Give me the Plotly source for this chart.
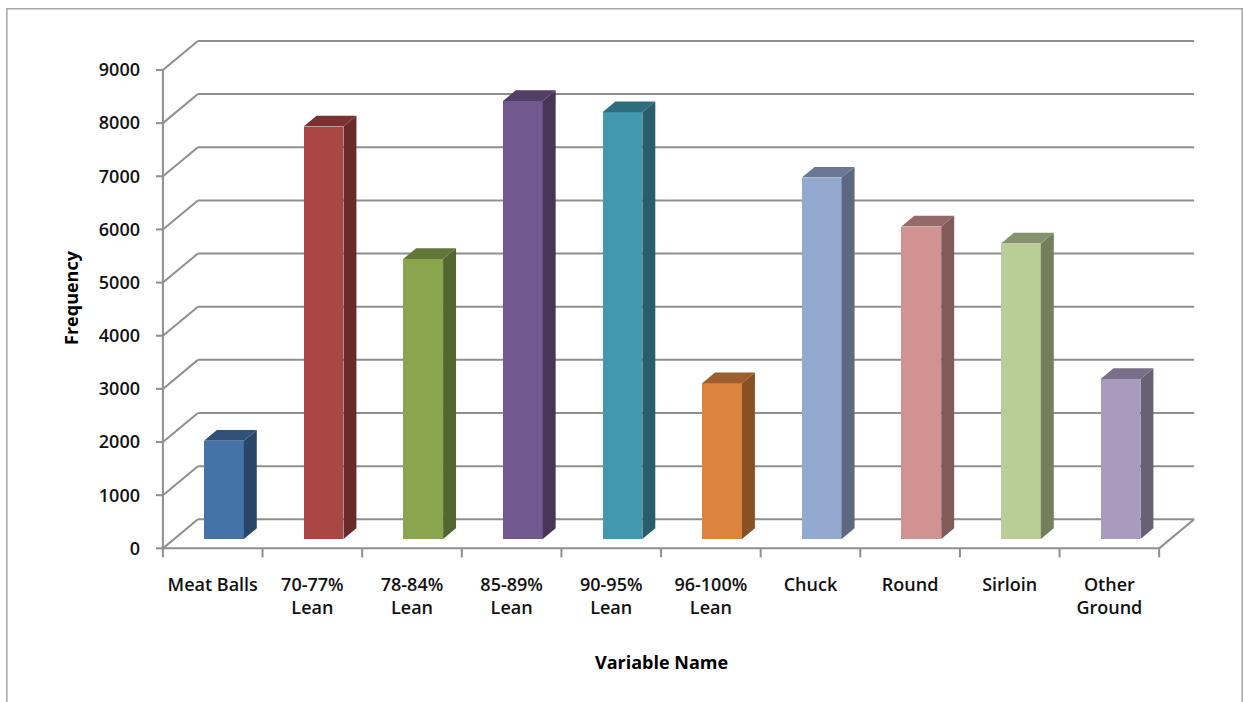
import plotly.graph_objects as go

# ---- data ----
categories = ["Meat Balls", "70-77%<br>Lean", "78-84%<br>Lean", "85-89%<br>Lean",
              "90-95%<br>Lean", "96-100%<br>Lean", "Chuck", "Round", "Sirloin",
              "Other<br>Ground"]
frequency = [1850, 7760, 5270, 8240, 8030, 2930, 6800, 5880, 5560, 3010]
y_ticks = [0, 1000, 2000, 3000, 4000, 5000, 6000, 7000, 8000, 9000]
bar_colors = ["#4572A7", "#AA4643", "#89A54E", "#71588F", "#4198AF",
              "#DB843D", "#93A9CF", "#D19392", "#B9CD96", "#A99BBD"]

# ---- pseudo-3D geometry (in axis units) ----
DEPTH_X = 0.351        # horizontal shift of the back wall, category units
DEPTH_Y = 546          # vertical shift of the back wall, frequency units
BAR_D0, BAR_D1 = 0.32, 0.69   # bar front/back as fraction of floor depth
BAR_W = 0.40
GRID = "#8f8f8f"
n = len(categories)


def shade(hex_color, k):
    r, g, b = (int(hex_color[i:i + 2], 16) for i in (1, 3, 5))
    return "rgb({},{},{})".format(int(r * k), int(g * k), int(b * k))


fig = go.Figure()

# front faces
base = BAR_D0 * DEPTH_Y
centers = [i + 0.5 + BAR_D0 * DEPTH_X for i in range(n)]
fig.add_trace(go.Bar(
    x=centers, y=frequency, base=[base] * n, width=BAR_W,
    marker=dict(color=bar_colors, line=dict(width=0)),
    hoverinfo="skip", showlegend=False,
))

# side and top faces
ddx = (BAR_D1 - BAR_D0) * DEPTH_X
ddy = (BAR_D1 - BAR_D0) * DEPTH_Y
for c, v, col in zip(centers, frequency, bar_colors):
    xl, xr = c - BAR_W / 2, c + BAR_W / 2
    top = base + v
    fig.add_trace(go.Scatter(
        x=[xr, xr, xr + ddx, xr + ddx, xr],
        y=[base, top, top + ddy, base + ddy, base],
        fill="toself", fillcolor=shade(col, 0.62), mode="lines",
        line=dict(width=0), hoverinfo="skip", showlegend=False,
    ))
    fig.add_trace(go.Scatter(
        x=[xl, xr, xr + ddx, xl + ddx, xl],
        y=[top, top, top + ddy, top + ddy, top],
        fill="toself", fillcolor=shade(col, 0.72), mode="lines",
        line=dict(width=0), hoverinfo="skip", showlegend=False,
    ))

# walls, floor, axis lines and tick marks
shapes = []


def seg(x0, y0, x1, y1, w=2):
    shapes.append(dict(type="line", xref="x", yref="y", x0=x0, y0=y0, x1=x1, y1=y1,
                       line=dict(color=GRID, width=w), layer="below"))


for v in y_ticks:
    seg(DEPTH_X, v + DEPTH_Y, n + DEPTH_X, v + DEPTH_Y)
    seg(0, v, DEPTH_X, v + DEPTH_Y)
    seg(-0.07, v, 0, v)
seg(0, 0, 0, y_ticks[-1])
seg(0, 0, n, 0)
seg(n, 0, n + DEPTH_X, DEPTH_Y)
for k in range(n + 1):
    seg(k, 0, k, -170)

# outer chart border
PL, PT, PW, PH = 143.1, 37.2, 1060.7, 521.4
shapes.append(dict(type="rect", xref="paper", yref="paper",
                   x0=(7 - PL) / PW, x1=(1242 - PL) / PW,
                   y0=(PT + PH - 712) / PH, y1=(PT + PH - 9) / PH,
                   line=dict(color="#a6a6a6", width=1.5), layer="below"))

TICK_FONT = dict(family="Open Sans, Liberation Sans, sans-serif", size=18,
                 weight=600, color="#111111")

fig.update_layout(
    width=1243, height=702,
    margin=dict(l=PL, r=1243 - PL - PW, t=PT, b=702 - PT - PH, pad=0),
    paper_bgcolor="white", plot_bgcolor="white",
    shapes=shapes, bargap=0, showlegend=False,
    font=dict(family="Open Sans, Liberation Sans, sans-serif", color="#000000"),
    xaxis=dict(range=[-0.2, n + 0.45], tickvals=[i + 0.5 for i in range(n)],
               ticktext=categories, ticks="", showgrid=False, zeroline=False,
               showline=False, tickfont=TICK_FONT, ticklabelstandoff=13,
               fixedrange=True),
    yaxis=dict(range=[-200, 9620], tickvals=y_ticks, ticks="", showgrid=False,
               zeroline=False, showline=False, tickfont=TICK_FONT,
               ticklabelstandoff=2,
               title=dict(text="Frequency", standoff=15,
                          font=dict(size=18, weight="bold")),
               fixedrange=True),
    annotations=[dict(text="Variable Name", xref="x", x=n / 2, yref="paper",
                      y=(PT + PH - 661) / PH, xanchor="center", yanchor="middle",
                      showarrow=False, font=dict(size=18, weight="bold"))],
)

fig.write_html("out.html")
